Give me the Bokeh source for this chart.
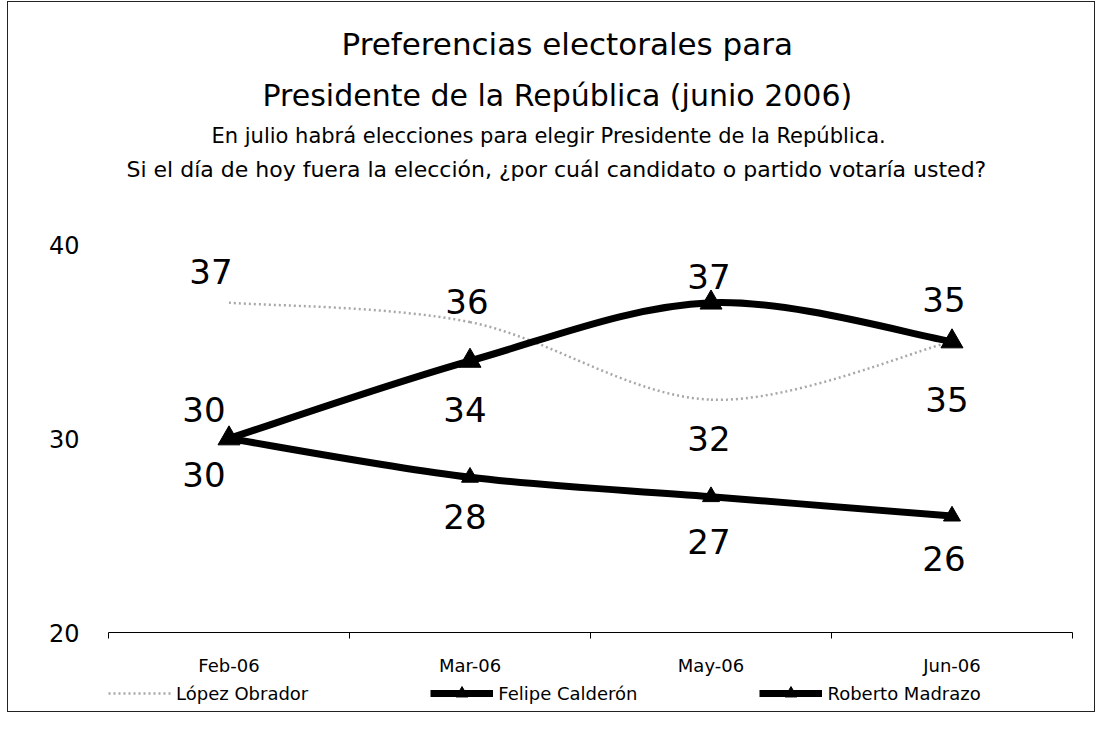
from bokeh.plotting import figure
from bokeh.layouts import column
from bokeh.models import ColumnDataSource, FixedTicker, Title, Legend, LegendItem, Range1d
from bokeh.core.properties import value
from bokeh.embed import file_html
from bokeh.resources import INLINE

# ---- data ----
months = ["Feb-06", "Mar-06", "May-06", "Jun-06"]
lopez = [37, 36, 32, 35]
calderon = [30, 34, 37, 35]
madrazo = [30, 28, 27, 26]
y_ticks = [20, 30, 40]
series_names = ["López Obrador", "Felipe Calderón", "Roberto Madrazo"]
title_lines = ["Preferencias electorales para",
               "Presidente de la República (junio 2006)"]
subtitle_lines = ["En julio habrá elecciones para elegir Presidente de la República.",
                  "Si el  día de hoy fuera la elección, ¿por cuál candidato o partido votaría usted?"]

# ---- label offsets (screen px), style only ----
lopez_off_x = [-18, -3, -2, -5]
lopez_off_y = [-31, -21, 39, 58]
calderon_off_x = [-25, -5, -2, -8]
calderon_off_y = [-29, 49, -26, -42]
madrazo_off_x = [-25, -5, -2, -8]
madrazo_off_y = [36, 39, 45, 42]

FONT = "DejaVu Sans"
LOPEZ_STYLE = dict(line_color="#a8a8a8", line_width=2.5, line_dash="2 3")
BOLD_STYLE = dict(line_color="black", line_width=7)
xs = [i + 0.5 for i in range(len(months))]

def bezier_source(ys):
    n = len(ys)
    d = dict(x0=[], y0=[], x1=[], y1=[], cx0=[], cy0=[], cx1=[], cy1=[])
    for i in range(n - 1):
        pm = max(i - 1, 0)
        pn = min(i + 2, n - 1)
        d["x0"].append(xs[i]); d["y0"].append(ys[i])
        d["x1"].append(xs[i + 1]); d["y1"].append(ys[i + 1])
        d["cx0"].append(xs[i] + (xs[i + 1] - xs[pm]) / 6.0)
        d["cy0"].append(ys[i] + (ys[i + 1] - ys[pm]) / 6.0)
        d["cx1"].append(xs[i + 1] - (xs[pn] - xs[i]) / 6.0)
        d["cy1"].append(ys[i + 1] - (ys[pn] - ys[i]) / 6.0)
    return ColumnDataSource(d)

p = figure(frame_width=964, frame_height=388, x_range=Range1d(0, len(months)), y_range=Range1d(20, 40),
           output_backend="svg", toolbar_location=None, title_location=None,
           min_border_left=100, min_border_right=22, min_border_top=242, min_border_bottom=44)
p.xgrid.visible = False
p.ygrid.visible = False
p.outline_line_color = None
p.background_fill_color = "white"

# titles (first added is closest to plot); a tiny spacer first
p.add_layout(Title(text=" ", text_font_size="2px", standoff=55), "above")
for txt, size, so, off in [(subtitle_lines[1], "22px", 7, 18), (subtitle_lines[0], "21px", 7, 103),
                           (title_lines[1], "30px", 11, 154), (title_lines[0], "31px", 18, 233)]:
    p.add_layout(Title(text=txt, align="left", offset=off, text_font=FONT, text_font_size=size,
                       text_font_style="normal", text_color="black", standoff=so), "above")

# lines
bz = dict(x0="x0", y0="y0", x1="x1", y1="y1", cx0="cx0", cy0="cy0", cx1="cx1", cy1="cy1")
p.bezier(source=bezier_source(lopez), **bz, **LOPEZ_STYLE)
p.bezier(source=bezier_source(madrazo), **bz, **BOLD_STYLE)
p.scatter(xs, madrazo, marker="triangle", size=17, color="black")
p.bezier(source=bezier_source(calderon), **bz, **BOLD_STYLE)
p.scatter(xs, calderon, marker="triangle", size=22, color="black")

# data labels
for ys, ox, oy in [(lopez, lopez_off_x, lopez_off_y), (calderon, calderon_off_x, calderon_off_y),
                   (madrazo, madrazo_off_x, madrazo_off_y)]:
    src = ColumnDataSource(dict(x=xs, y=ys, t=[str(v) for v in ys], ox=ox, oy=oy))
    p.text(x="x", y="y", text="t", x_offset="ox", y_offset="oy", source=src,
           text_align="center", text_baseline="middle", text_font=value(FONT),
           text_font_size="34px", text_color="black")

# axes
p.xaxis.ticker = FixedTicker(ticks=xs, minor_ticks=list(range(len(months) + 1)))
p.xaxis.major_label_overrides = {x: m for x, m in zip(xs, months)}
p.xaxis.major_tick_line_color = None
p.xaxis.minor_tick_line_color = "black"
p.xaxis.minor_tick_in = 0
p.xaxis.minor_tick_out = 6
p.xaxis.axis_line_color = "black"
p.xaxis.major_label_standoff = 16
p.xaxis.major_label_text_font = FONT
p.xaxis.major_label_text_font_size = "18px"
p.xaxis.major_label_text_color = "black"

p.yaxis.ticker = FixedTicker(ticks=y_ticks)
p.yaxis.axis_line_color = None
p.yaxis.major_tick_line_color = None
p.yaxis.minor_tick_line_color = None
p.yaxis.major_label_standoff = 23
p.yaxis.major_label_text_font = FONT
p.yaxis.major_label_text_font_size = "24px"
p.yaxis.major_label_text_color = "black"

# legend strip (a separate figure under the chart); its sample renderers are hidden
lg = figure(width=1086, height=33, x_range=Range1d(0, 1), y_range=Range1d(0, 1),
            output_backend="svg", toolbar_location=None, title_location=None, min_border=0)
lg.axis.visible = False
lg.grid.visible = False
lg.outline_line_color = None
l_lopez = lg.line(xs, lopez, visible=False, **LOPEZ_STYLE)
l_cal = lg.line(xs, calderon, visible=False, **BOLD_STYLE)
m_cal = lg.scatter(xs, calderon, marker="triangle", size=18, color="black", visible=False)
l_mad = lg.line(xs, madrazo, visible=False, **BOLD_STYLE)
m_mad = lg.scatter(xs, madrazo, marker="triangle", size=18, color="black", visible=False)
legend = Legend(items=[LegendItem(label=series_names[0], renderers=[l_lopez]),
                       LegendItem(label=series_names[1], renderers=[l_cal, m_cal]),
                       LegendItem(label=series_names[2], renderers=[l_mad, m_mad])],
                orientation="horizontal", location=(0, 3), glyph_width=63, glyph_height=30,
                label_standoff=5, spacing=122, border_line_color=None, background_fill_alpha=0,
                inactive_fill_alpha=0, click_policy="none",
                label_text_font=FONT, label_text_font_size="18px", label_text_color="black",
                padding=0, margin=0)
lg.add_layout(legend, "center")

layout = column(p, lg, spacing=0,
                styles={"border": "1px solid #222", "margin-left": "7px", "margin-top": "1px"})
open("out.html", "w").write(file_html(layout, INLINE))
